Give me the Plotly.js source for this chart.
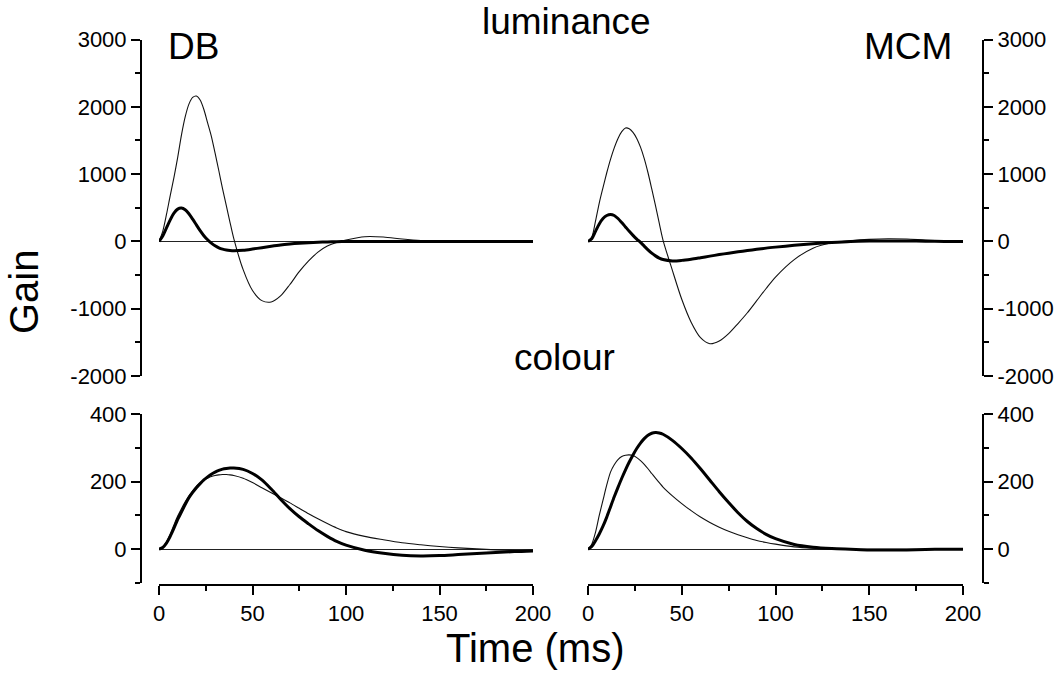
<!DOCTYPE html>
<html>
<head>
<meta charset="utf-8">
<script src="https://cdn.plot.ly/plotly-3.0.1.min.js"></script>
<style>html,body{margin:0;padding:0;background:#fff;}#chart{width:1063px;height:683px;}</style>
</head>
<body>
<div id="chart"></div>
<script>
// ---- data ----
const time = [0,2,4,6,8,10,12,14,16,18,20,22,24,26,28,30,32,34,36,38,40,45,50,55,60,65,70,75,80,85,90,95,100,110,120,130,140,150,160,170,180,190,200];

// luminance, subject DB
const dbLumThin  = [0,150,400,680,950,1250,1580,1850,2040,2140,2160,2100,1960,1760,1560,1310,1050,780,530,280,40,-420,-730,-880,-900,-810,-640,-450,-290,-160,-70,-15,20,70,65,35,12,2,0,0,0,0,0];
const dbLumThick = [0,80,200,320,420,480,495,470,410,330,245,160,85,25,-25,-65,-95,-115,-128,-135,-138,-132,-114,-93,-72,-53,-39,-28,-20,-13,-8,-4,-2,0,0,0,0,0,0,0,0,0,0];

// luminance, subject MCM
const mcmLumThin  = [0,60,300,570,800,1020,1220,1390,1530,1630,1685,1675,1620,1530,1400,1230,1020,780,530,270,20,-430,-860,-1200,-1430,-1520,-1480,-1370,-1220,-1060,-880,-700,-530,-270,-100,-20,10,30,40,35,20,10,5];
const mcmLumThick = [0,40,150,260,340,385,400,385,340,280,215,150,90,35,-15,-70,-125,-175,-215,-248,-270,-290,-282,-264,-242,-219,-196,-175,-155,-135,-118,-100,-85,-58,-35,-15,0,5,5,5,3,0,0];

// colour, subject DB
const dbColThin  = [0,6,22,45,72,98,120,140,158,173,186,196,204,210,215,218,220,221,221,220,218,210,197,182,167,152,137,121,105,90,76,63,52,38,28,19,13,8,4,1,-2,-4,-5];
const dbColThick = [0,5,18,38,62,88,110,132,152,168,182,194,205,214,222,228,233,237,239,240,240,236,224,205,178,148,120,96,75,55,38,23,12,-3,-12,-18,-20,-19,-16,-13,-10,-7,-5];

// colour, subject MCM
const mcmColThin  = [0,15,50,100,145,190,228,250,265,274,278,279,277,271,262,251,238,224,210,197,184,158,135,114,95,79,65,53,43,34,26,20,15,7,3,1,0,0,0,0,0,0,0];
const mcmColThick = [0,8,25,45,68,95,125,155,183,210,235,258,279,298,314,327,337,343,345,344,340,322,298,270,238,204,170,138,108,82,61,44,31,14,6,2,0,-2,-2,-2,-1,0,0];

// tick labels
const lumTickVals = [-2000,-1000,0,1000,2000,3000];
const lumTickText = ['-2000','-1000','0','1000','2000','3000'];
const colTickVals = [0,200,400];
const colTickText = ['0','200','400'];
const timeTickVals = [0,50,100,150,200];
const timeTickText = ['0','50','100','150','200'];

// text labels
const panelTitles = {top:'luminance', bottom:'colour', left:'DB', right:'MCM'};
const axisTitles = {x:'Time (ms)', y:'Gain'};

// ---- drawing ----
const FONT = '"Liberation Sans", Arial, Helvetica, sans-serif';
const thin = {color:'#111', width:1.1, shape:'spline', smoothing:0.8};
const thick = {color:'#000', width:3, shape:'spline', smoothing:0.8};

function tr(y, xa, ya, line){
  return {x: time, y: y, xaxis: xa, yaxis: ya, mode:'lines', line: line, hoverinfo:'skip', type:'scatter'};
}

const traces = [
  tr(dbLumThin,  'x',  'y',  thin),
  tr(dbLumThick, 'x',  'y',  thick),
  tr(mcmLumThin, 'x2', 'y2', thin),
  tr(mcmLumThick,'x2', 'y2', thick),
  tr(dbColThin,  'x3', 'y3', thin),
  tr(dbColThick, 'x3', 'y3', thick),
  tr(mcmColThin, 'x4', 'y4', thin),
  tr(mcmColThick,'x4', 'y4', thick)
];

const W = 1063, H = 683;
const px = v => v / W;
const py = v => (H - v) / H;

const xL = [px(159), px(533)];
const xR = [px(588), px(963)];
const yTop = [py(376), py(39.5)];
const yBot = [py(583), py(414)];

const tickFont = {family: FONT, size: 22, color:'#000'};

function yAx(domain, range, vals, text, minorStep, side, pos){
  return {
    domain: domain, range: range, anchor:'free', position: pos, side: side,
    showline:true, linecolor:'#000', linewidth:2,
    ticks:'outside', ticklen:9, tickwidth:2, tickcolor:'#000',
    tickmode:'array', tickvals: vals, ticktext: text, tickfont: tickFont,
    minor:{tickmode:'linear', tick0:0, dtick:minorStep, ticks:'outside', ticklen:5, tickwidth:2, tickcolor:'#000', showgrid:false},
    showgrid:false, zeroline:true, zerolinecolor:'#222', zerolinewidth:1,
    fixedrange:true
  };
}
function xHidden(domain, anchor){
  return {domain: domain, range:[0,200], anchor: anchor, visible:false, showgrid:false, zeroline:false, fixedrange:true};
}
function xShown(domain){
  return {
    domain: domain, range:[0,200], anchor:'free', position: py(585),
    showline:true, linecolor:'#000', linewidth:2,
    ticks:'outside', ticklen:9, tickwidth:2, tickcolor:'#000',
    tickmode:'array', tickvals: timeTickVals, ticktext: timeTickText, tickfont: tickFont,
    minor:{tickmode:'linear', tick0:0, dtick:25, ticks:'outside', ticklen:5, tickwidth:2, tickcolor:'#000', showgrid:false},
    showgrid:false, zeroline:false, fixedrange:true
  };
}

const big = {family: FONT, size: 37, color:'#000'};
const huge = {family: FONT, size: 40, color:'#000'};

const layout = {
  width: W, height: H,
  margin:{l:0, r:0, t:0, b:0, pad:0},
  paper_bgcolor:'#fff', plot_bgcolor:'rgba(0,0,0,0)',
  showlegend:false,
  xaxis:  xHidden(xL, 'y'),
  xaxis2: xHidden(xR, 'y2'),
  xaxis3: xShown(xL),
  xaxis4: xShown(xR),
  yaxis:  yAx(yTop, [-2000,3000], lumTickVals, lumTickText, 500, 'left',  px(141)),
  yaxis2: yAx(yTop, [-2000,3000], lumTickVals, lumTickText, 500, 'right', px(983)),
  yaxis3: yAx(yBot, [-100,400], colTickVals, colTickText, 100, 'left',  px(141)),
  yaxis4: yAx(yBot, [-100,400], colTickVals, colTickText, 100, 'right', px(983)),
  annotations: [
    {text: panelTitles.top,    x: px(566), y: py(21),  xref:'paper', yref:'paper', showarrow:false, font: big, xanchor:'center', yanchor:'middle'},
    {text: panelTitles.bottom, x: px(564), y: py(357), xref:'paper', yref:'paper', showarrow:false, font: big, xanchor:'center', yanchor:'middle'},
    {text: panelTitles.left,   x: px(193), y: py(47),  xref:'paper', yref:'paper', showarrow:false, font: big, xanchor:'center', yanchor:'middle'},
    {text: panelTitles.right,  x: px(908), y: py(47),  xref:'paper', yref:'paper', showarrow:false, font: big, xanchor:'center', yanchor:'middle'},
    {text: axisTitles.y, x: px(24), y: py(292), xref:'paper', yref:'paper', showarrow:false, font: huge, textangle:-90, xanchor:'center', yanchor:'middle'},
    {text: axisTitles.x, x: px(535), y: py(648), xref:'paper', yref:'paper', showarrow:false, font: huge, xanchor:'center', yanchor:'middle'}
  ]
};

Plotly.newPlot('chart', traces, layout, {staticPlot:true, displayModeBar:false});
</script>
</body>
</html>
